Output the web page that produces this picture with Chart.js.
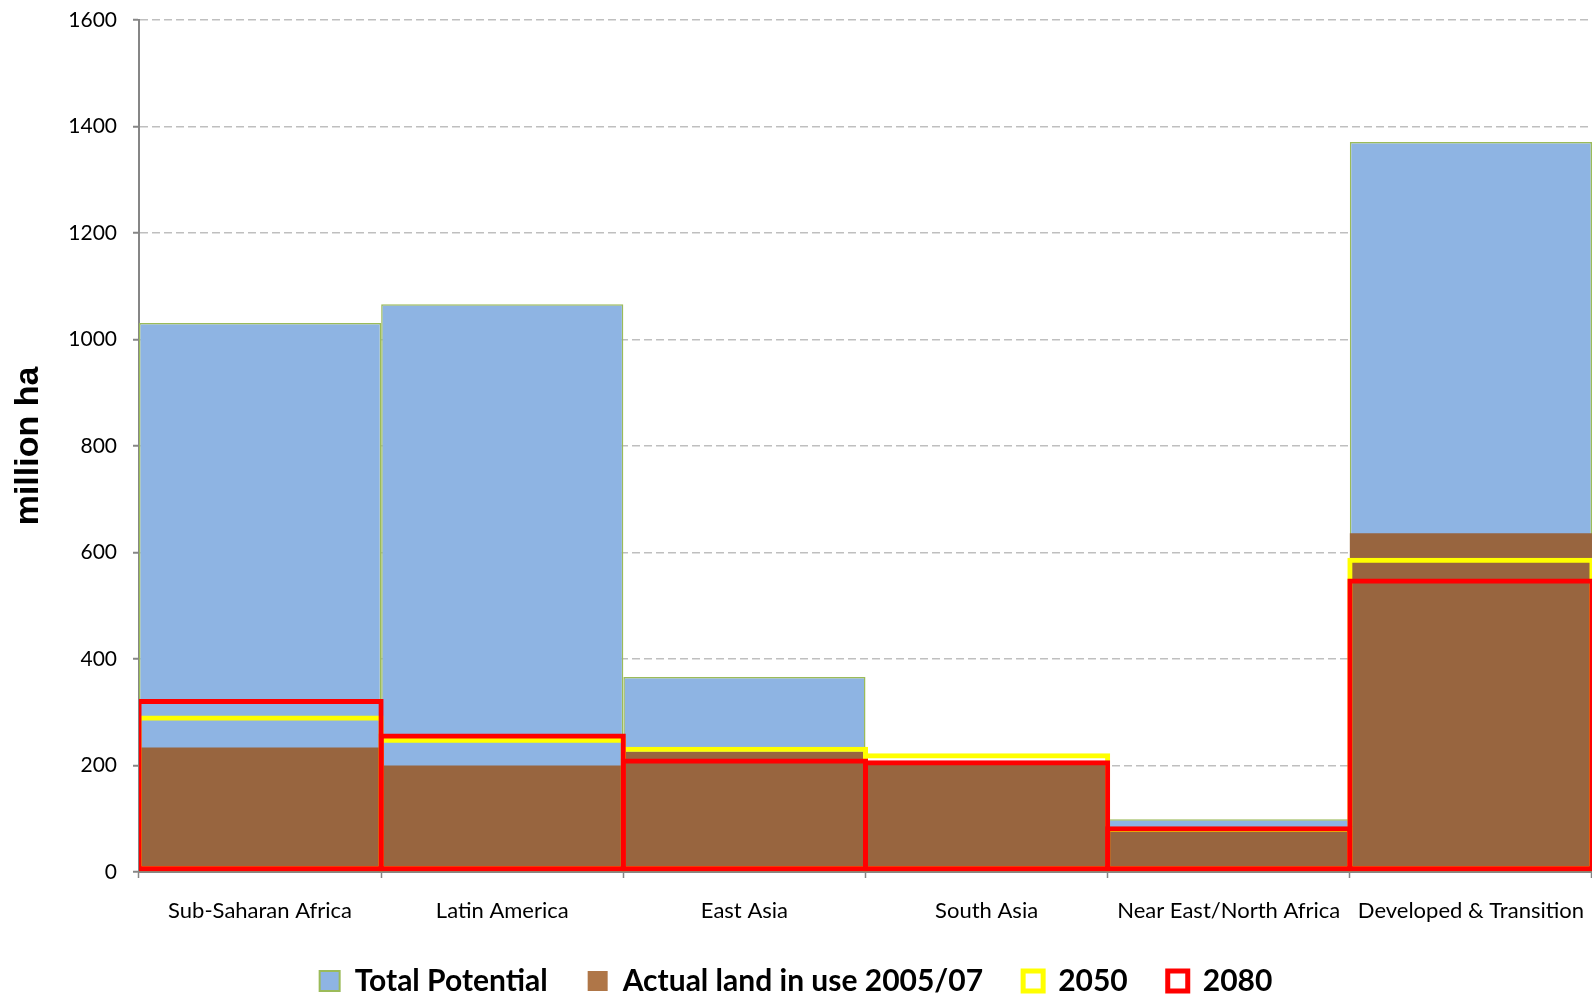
<!DOCTYPE html>
<html><head><meta charset="utf-8">
<script src="https://cdn.jsdelivr.net/npm/chart.js@4.4.1/dist/chart.umd.min.js"></script>
<style>html,body{margin:0;padding:0;background:#fff;overflow:hidden;}#wrap{width:1592px;height:1000px;}</style>
</head><body><div id="wrap"><canvas id="c" width="1592" height="1000"></canvas></div>
<script>
const categories = ['Sub-Saharan Africa', 'Latin America', 'East Asia', 'South Asia', 'Near East/North Africa', 'Developed & Transition'];
const totalPotential = [1031, 1066, 366, 205, 99, 1371];
const actualLand = [234, 200, 226, 207, 80, 636];
const land2050 = [294, 252, 235, 223, 85, 590];
const land2080 = [325, 260, 213, 210, 86, 551];
const yMin = 0, yMax = 1600, yStep = 200;

const seriesNames = ['Total Potential', 'Actual land in use 2005/07', '2050', '2080'];

const ctx = document.getElementById('c').getContext('2d');
const outlineBarPct = 1 + 5 / 242;
const chart = new Chart(ctx, {
  type: 'bar',
  data: {
    labels: categories,
    datasets: [
      { label: seriesNames[0], data: totalPotential, backgroundColor: '#8EB4E3', borderColor: '#9BBB59',
        borderWidth: {top: 1.5, left: 1.5, right: 1.5, bottom: 0}, borderSkipped: false, order: 4, grouped: false },
      { label: seriesNames[1], data: actualLand, backgroundColor: '#98653F', borderWidth: 0, order: 3, grouped: false },
      { label: seriesNames[2], data: land2050, backgroundColor: 'rgba(0,0,0,0)', borderColor: '#FFFF00',
        borderWidth: 5, borderSkipped: false, order: 2, grouped: false, barPercentage: outlineBarPct,
        clip: {left: 0, right: 0, top: 0, bottom: false} },
      { label: seriesNames[3], data: land2080, backgroundColor: 'rgba(0,0,0,0)', borderColor: '#FF0000',
        borderWidth: 5, borderSkipped: false, order: 1, grouped: false, barPercentage: outlineBarPct,
        clip: {left: 0, right: 0, top: 0, bottom: false} }
    ]
  },
  options: {
    responsive: false,
    animation: false,
    devicePixelRatio: 1,
    layout: { padding: { top: 20, bottom: -6, left: 0, right: 0 } },
    datasets: { bar: { barPercentage: 1, categoryPercentage: 1, inflateAmount: 0 } },
    scales: {
      x: {
        grid: { display: true, drawOnChartArea: false, tickLength: 6, tickColor: '#868686', tickWidth: 1.5, offset: true },
        border: { display: true, color: '#868686', width: 2 },
        ticks: { color: '#000', padding: 20, maxRotation: 0, autoSkip: false, font: { family: 'Lato', size: 22 } },
        afterFit: (s) => { s.height = 54; s.paddingLeft = 0; s.paddingRight = 0; }
      },
      y: {
        min: yMin, max: yMax,
        grid: { color: '#BFBFBF', lineWidth: 1.5, tickLength: 6, tickColor: '#868686', tickWidth: 2, tickBorderDash: [] },
        border: { display: true, color: '#868686', width: 2, dash: [8, 4] },
        ticks: { stepSize: yStep, color: '#000', padding: 16, font: { family: 'Lato', size: 21 },
                 callback: (v) => String(v) },
        title: { display: true, text: 'million ha', color: '#000', padding: { top: 8, bottom: 0 },
                 font: { family: 'Liberation Sans', size: 34, weight: 'bold' } },
        afterFit: (s) => { s.width = 139; s.paddingTop = 0; s.paddingBottom = 0; }
      }
    },
    plugins: {
      tooltip: { enabled: false },
      legend: {
        position: 'bottom',
        labels: {
          boxWidth: 20, boxHeight: 20, padding: 40, color: '#000',
          font: { family: 'Lato', size: 30, weight: 'bold' },
          sort: (a, b) => a.datasetIndex - b.datasetIndex,
          generateLabels: (ch) => {
            const items = Chart.defaults.plugins.legend.labels.generateLabels(ch);
            items.forEach(it => {
              if (it.datasetIndex === 0) { it.lineWidth = 2; }
              if (it.datasetIndex === 1) { it.fillStyle = '#AF7648'; it.lineWidth = 0; }
              if (it.datasetIndex === 2 || it.datasetIndex === 3) { it.fillStyle = '#FFFFFF'; it.lineWidth = 5; }
            });
            return items;
          }
        }
      }
    }
  }
});
</script>
</body></html>
